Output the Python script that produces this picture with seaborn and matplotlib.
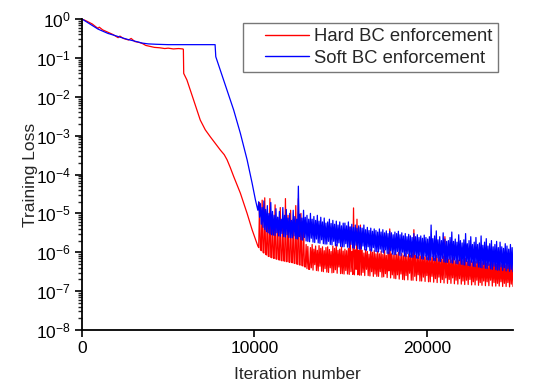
import numpy as np
import pandas as pd
import matplotlib
matplotlib.use("Agg")
import matplotlib.pyplot as plt
import seaborn as sns
from matplotlib.ticker import LogLocator, NullFormatter, FixedLocator
from matplotlib.lines import Line2D
from matplotlib.legend_handler import HandlerLine2D

# ---------------- data ----------------
series_names = ["Hard BC enforcement", "Soft BC enforcement"]
series_colors = ["#ff0000", "#0000ff"]

# smooth early phase: iteration, log10(loss)
hard_iter_early = [0, 300, 600, 800, 930, 1000, 1200, 1500, 1800, 2093, 2200, 2400,
                   2700, 2850, 3064, 3300, 3500, 3700, 3900, 4200, 4500, 4800, 5000,
                   5300, 5600, 5850, 5880, 5900, 6087, 6280, 6471, 6860, 7150, 7442,
                   7730, 8023, 8250, 8413, 8600, 8797, 9186, 9576, 9866, 10100]
hard_log_early = [0.0, -0.06, -0.13, -0.20, -0.24, -0.21, -0.28, -0.34, -0.40, -0.48,
                  -0.44, -0.50, -0.54, -0.50, -0.58, -0.60, -0.63, -0.68, -0.70, -0.73,
                  -0.74, -0.76, -0.75, -0.77, -0.76, -0.77, -0.78, -1.40, -1.57, -1.83,
                  -2.08, -2.60, -2.85, -3.03, -3.20, -3.37, -3.49, -3.62, -3.82, -4.05,
                  -4.48, -5.00, -5.42, -5.72]

soft_iter_early = [0, 930, 1500, 2093, 2600, 3064, 3500, 3837, 4300, 5000, 7720, 7760,
                   8215, 8797, 9186, 9576, 9866, 10058]
soft_log_early = [0.0, -0.26, -0.37, -0.45, -0.52, -0.57, -0.62, -0.64, -0.65, -0.66,
                  -0.66, -0.97, -1.57, -2.34, -2.94, -3.62, -4.22, -4.65]

# noisy late phase, sampled every 50 iterations from 10200 to 25000: log10(loss)
hard_log_late = [
    -5.84, -5.88, -4.72, -5.93, -5.96, -4.66, -6.00, -6.02, -4.60, -6.05,
    -6.07, -4.95, -6.10, -6.11, -4.62, -6.13, -6.14, -5.02, -6.15, -6.16,
    -4.78, -6.17, -6.18, -5.10, -6.19, -6.20, -4.85, -6.21, -6.22, -5.20,
    -6.22, -6.23, -4.62, -6.24, -6.24, -5.05, -6.25, -6.26, -4.92, -6.26,
    -6.27, -5.15, -6.28, -6.29, -4.80, -6.30, -6.31, -4.62, -6.32, -6.33,
    -5.00, -6.34, -6.35, -5.25, -6.37, -6.38, -5.80, -6.42, -5.85, -6.44,
    -6.44, -5.88, -6.40, -5.80, -6.46, -5.92, -6.32, -5.84, -6.47, -5.95,
    -6.48, -5.83, -6.36, -5.90, -6.49, -5.86, -6.50, -5.96, -6.42, -5.88,
    -6.51, -5.86, -6.52, -5.93, -6.40, -5.98, -6.53, -5.84, -6.52, -5.90,
    -6.45, -5.80, -6.54, -5.95, -6.38, -5.92, -6.55, -5.86, -6.55, -5.97,
    -6.56, -5.92, -6.47, -5.96, -6.56, -5.90, -6.57, -5.35, -6.50, -5.98,
    -6.57, -4.86, -6.58, -5.94, -6.44, -5.15, -6.58, -5.95, -6.59, -5.30,
    -6.59, -5.95, -6.52, -6.02, -6.60, -5.93, -6.44, -5.98, -6.60, -6.05,
    -6.61, -5.92, -6.50, -6.00, -6.62, -5.96, -6.56, -6.04, -6.62, -5.98,
    -6.62, -6.04, -6.50, -5.97, -6.64, -6.06, -6.63, -5.95, -6.55, -6.08,
    -6.65, -6.00, -6.48, -5.40, -6.66, -6.04, -6.58, -6.07, -6.67, -6.01,
    -6.68, -6.06, -6.58, -6.00, -6.69, -6.10, -6.56, -6.03, -6.70, -6.09,
    -6.71, -6.02, -6.60, -6.10, -6.71, -6.05, -6.54, -6.08, -6.72, -6.04,
    -6.72, -5.42, -6.62, -6.08, -6.73, -6.12, -6.58, -6.04, -6.74, -6.10,
    -6.74, -6.06, -6.64, -6.12, -6.75, -6.08, -6.60, -6.14, -6.76, -6.06,
    -6.76, -6.14, -6.62, -6.10, -6.77, -6.16, -6.68, -6.08, -6.78, -6.15,
    -6.64, -6.12, -6.78, -6.18, -6.70, -6.10, -6.79, -5.60, -6.66, -6.14,
    -6.80, -6.18, -6.70, -6.12, -6.80, -6.20, -6.66, -6.14, -6.81, -6.22,
    -6.72, -6.16, -6.82, -6.20, -6.68, -6.14, -6.82, -6.22, -6.74, -6.18,
    -6.83, -6.16, -6.72, -6.24, -6.83, -6.18, -6.70, -6.22, -6.84, -6.25,
    -6.76, -6.18, -6.84, -6.24, -6.72, -6.20, -6.85, -6.26, -6.78, -6.21,
    -6.85, -6.27, -6.74, -6.22, -6.86, -6.28, -6.76, -6.24, -6.86, -6.30,
    -6.72, -6.25, -6.87, -6.28, -6.78, -6.24, -6.87, -6.31, -6.80, -6.26,
    -6.87, -6.28, -6.76, -6.32, -6.88, -6.27, -6.80, -6.33, -6.88, -6.29,
    -6.78, -6.34, -6.89, -6.30, -6.82, -6.33, -6.88,
]
soft_log_late = [
    -4.92, -4.70, -5.10, -4.75, -5.28, -4.85, -5.36, -4.68, -5.42, -4.90,
    -5.47, -4.80, -5.50, -5.00, -5.53, -4.72, -5.55, -4.95, -5.56, -5.05,
    -5.57, -4.88, -5.50, -5.10, -5.58, -4.95, -5.59, -5.15, -5.52, -4.85,
    -5.60, -5.05, -5.61, -4.90, -5.55, -5.12, -5.62, -5.00, -5.63, -5.18,
    -5.63, -4.92, -5.58, -5.08, -5.65, -5.15, -5.66, -4.30, -5.60, -5.02,
    -5.68, -5.12, -5.69, -4.92, -5.62, -5.10, -5.71, -5.05, -5.72, -5.15,
    -5.73, -5.00, -5.64, -5.15, -5.74, -5.08, -5.75, -5.18, -5.66, -5.05,
    -5.76, -5.20, -5.77, -5.10, -5.68, -5.22, -5.78, -5.12, -5.79, -5.25,
    -5.79, -5.22, -5.72, -5.15, -5.80, -5.26, -5.81, -5.18, -5.72, -5.28,
    -5.83, -5.20, -5.84, -5.30, -5.76, -5.22, -5.85, -5.32, -5.86, -5.25,
    -5.86, -5.25, -5.78, -5.32, -5.87, -5.22, -5.88, -5.35, -5.80, -5.28,
    -5.89, -5.36, -5.90, -5.30, -5.82, -5.38, -5.91, -5.32, -5.92, -5.36,
    -5.92, -5.38, -5.84, -5.30, -5.94, -5.42, -5.95, -5.36, -5.86, -5.44,
    -5.96, -5.38, -5.97, -5.46, -5.88, -5.40, -5.98, -5.44, -5.99, -5.48,
    -5.99, -5.40, -5.92, -5.48, -6.00, -5.42, -6.02, -5.50, -5.94, -5.45,
    -6.03, -5.52, -6.04, -5.46, -5.96, -5.50, -6.05, -5.55, -6.06, -5.48,
    -6.06, -5.52, -5.98, -5.46, -6.08, -5.55, -6.09, -5.50, -6.00, -5.58,
    -6.10, -5.52, -6.11, -5.60, -6.04, -5.54, -6.12, -5.58, -6.13, -5.62,
    -6.13, -5.52, -6.06, -5.60, -6.15, -5.55, -6.16, -5.62, -6.08, -5.58,
    -6.17, -5.64, -6.18, -5.56, -6.10, -5.62, -6.19, -5.66, -6.20, -5.60,
    -6.20, -5.30, -6.12, -5.65, -6.21, -5.58, -6.22, -5.45, -6.14, -5.68,
    -6.23, -5.60, -6.24, -5.70, -6.16, -5.50, -6.25, -5.66, -6.26, -5.72,
    -6.26, -5.70, -6.18, -5.62, -6.27, -5.48, -6.28, -5.72, -6.20, -5.66,
    -6.29, -5.74, -6.30, -5.55, -6.22, -5.70, -6.31, -5.76, -6.32, -5.68,
    -6.33, -5.52, -6.24, -5.78, -6.34, -5.70, -6.35, -5.60, -6.26, -5.80,
    -6.36, -5.74, -6.37, -5.62, -6.28, -5.80, -6.38, -5.76, -6.39, -5.58,
    -6.40, -5.82, -6.32, -5.74, -6.41, -5.65, -6.42, -5.84, -6.34, -5.78,
    -6.43, -5.70, -6.44, -5.86, -6.36, -5.80, -6.45, -5.72, -6.46, -5.88,
    -6.46, -5.74, -6.38, -5.86, -6.47, -5.90, -6.40, -5.78, -6.48, -5.84,
    -6.42, -5.92, -6.49, -5.80, -6.44, -5.88, -6.50,
]
late_iter = list(range(10200, 25001, 50))

x_ticks = [0, 10000, 20000]
x_label = "Iteration number"
y_label = "Training Loss"

# ---------------- build table ----------------
frames = []
for name, it_e, lg_e, lg_l in [
    (series_names[0], hard_iter_early, hard_log_early, hard_log_late),
    (series_names[1], soft_iter_early, soft_log_early, soft_log_late),
]:
    it = list(it_e) + late_iter
    lg = np.array(list(lg_e) + list(lg_l))
    frames.append(pd.DataFrame({"iteration": it, "loss": 10.0 ** lg, "series": name}))
df = pd.concat(frames, ignore_index=True)

# ---------------- style ----------------
sns.set_style("ticks")
plt.rcParams["font.family"] = ["Liberation Sans", "DejaVu Sans"]
plt.rcParams["mathtext.fontset"] = "custom"
plt.rcParams["mathtext.rm"] = "Liberation Sans"
plt.rcParams["mathtext.it"] = "Liberation Sans:italic"
plt.rcParams["mathtext.bf"] = "Liberation Sans:bold"

fig = plt.figure(figsize=(5.54, 3.92), dpi=100)
ax = fig.add_axes([82 / 554, 1 - 330 / 392, 431 / 554, 311 / 392])

sns.lineplot(data=df, x="iteration", y="loss", hue="series", hue_order=series_names,
             palette=series_colors, estimator=None, sort=False,
             linewidth=0.9, ax=ax)

ax.set_yscale("log")
ax.set_ylim(1e-8, 1e0)
ax.set_xlim(0, 25000)
ax.xaxis.set_major_locator(FixedLocator(x_ticks))
ax.set_xticklabels([str(v) for v in x_ticks])
ax.yaxis.set_major_locator(LogLocator(base=10, numticks=20))
ax.yaxis.set_minor_locator(LogLocator(base=10, subs=np.arange(2, 10), numticks=20))
ax.yaxis.set_minor_formatter(NullFormatter())

for s in ["top", "right"]:
    ax.spines[s].set_visible(False)
for s in ["left", "bottom"]:
    ax.spines[s].set_linewidth(1.3)
    ax.spines[s].set_color("black")

ax.tick_params(axis="both", which="major", direction="out", length=5, width=1.2,
               labelsize=12.5, colors="black", pad=3)
ax.tick_params(axis="y", which="minor", direction="out", length=3, width=1.0)

ax.set_xlabel(x_label, fontsize=12.5, labelpad=8)
ax.set_ylabel(y_label, fontsize=12.5)
ax.yaxis.set_label_coords(-0.102, 0.5)

leg = ax.legend(loc="upper right", bbox_to_anchor=(0.965, 0.987), borderaxespad=0,
                fontsize=13.3, frameon=True, fancybox=False, handlelength=3.3,
                borderpad=0.28, labelspacing=0.25, handletextpad=0.28,
                handler_map={Line2D: HandlerLine2D(xpad=0.9)})
leg.get_frame().set_edgecolor("#555555")
leg.get_frame().set_linewidth(1.0)
for line in leg.get_lines():
    line.set_linewidth(1.0)

fig.savefig("out.png", dpi=100)
